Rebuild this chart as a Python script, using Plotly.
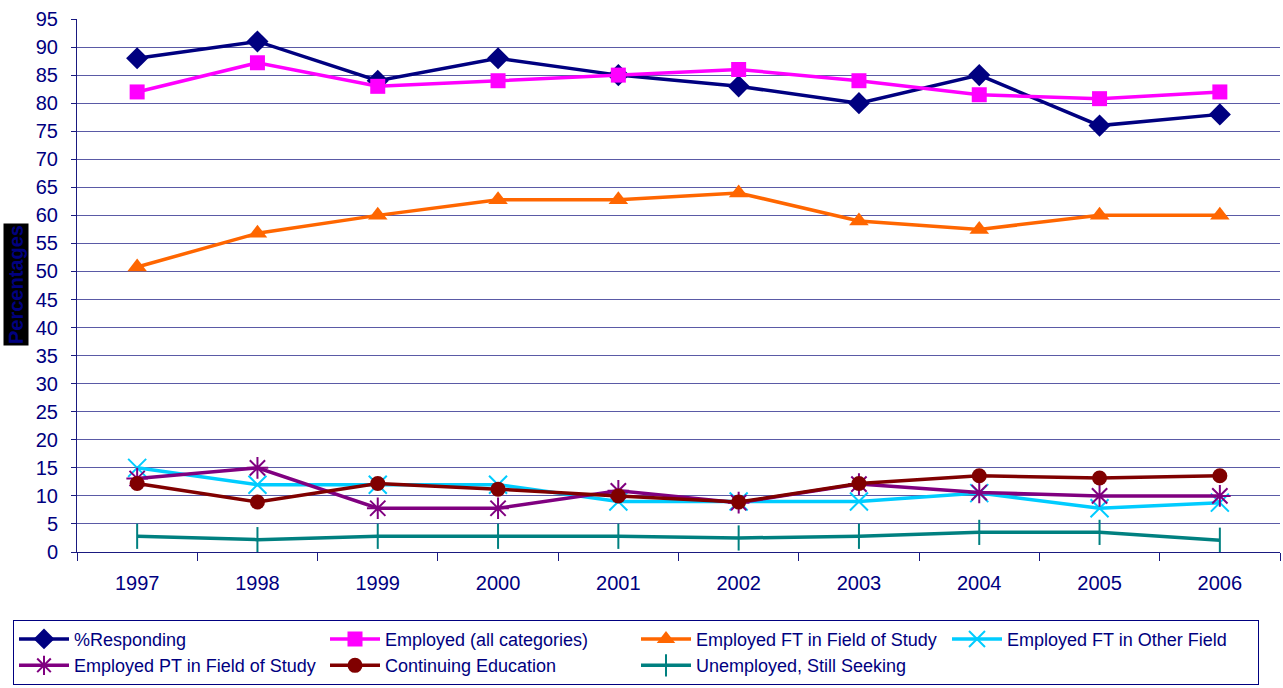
import plotly.graph_objects as go

years = ["1997", "1998", "1999", "2000", "2001", "2002", "2003", "2004", "2005", "2006"]
responding = [88, 91, 84, 88, 85, 83, 80, 85, 76, 78]
employed_all = [82, 87.2, 83, 84, 85, 86, 84, 81.5, 80.8, 82]
ft_field = [50.8, 56.8, 60, 62.8, 62.8, 64, 59, 57.5, 60, 60]
ft_other = [15, 12, 12, 12, 9, 9, 9, 10.5, 7.8, 8.8]
pt_field = [13.1, 15, 7.8, 7.8, 10.9, 8.8, 12.1, 10.6, 10, 10]
cont_edu = [12.2, 8.9, 12.2, 11.2, 10, 8.9, 12.2, 13.6, 13.2, 13.6]
unemployed = [2.8, 2.2, 2.8, 2.8, 2.8, 2.5, 2.8, 3.5, 3.5, 2.1]

series = [
    ("%Responding", responding, "#000080", "diamond", 17, None),
    ("Employed (all categories)", employed_all, "#FF00FF", "square", 15, None),
    ("Employed FT in Field of Study", ft_field, "#FF6600", "triangle-up", 17, None),
    ("Employed FT in Other Field", ft_other, "#00CCFF", "x-thin-open", 18, 2),
    ("Employed PT in Field of Study", pt_field, "#800080", "asterisk-open", 18, 2),
    ("Continuing Education", cont_edu, "#800000", "circle", 15, None),
    ("Unemployed, Still Seeking", unemployed, "#008080", "line-ns-open", 18, 2),
]

fig = go.Figure()
for name, vals, color, sym, size, lw in series:
    marker = dict(symbol=sym, size=size, color=color)
    if lw:
        marker["line"] = dict(width=lw, color=color)
    fig.add_trace(go.Scatter(
        x=years, y=vals, name=name, mode="lines+markers",
        line=dict(color=color, width=3.5), marker=marker,
    ))

fig.update_layout(
    width=1283, height=688,
    margin=dict(l=77, r=3, t=19, b=134),
    paper_bgcolor="white", plot_bgcolor="white",
    font=dict(family="Liberation Sans, Arial", color="#000080", size=18),
    showlegend=True,
    legend=dict(
        orientation="h", xref="paper", yref="paper",
        x=(13 - 77) / 1203, xanchor="left", y=(554 - 622) / 535, yanchor="top",
        bordercolor="#000080", borderwidth=1, bgcolor="white",
        font=dict(size=18, color="#000080"),
        entrywidth=246, entrywidthmode="pixels",
        tracegroupgap=0, itemwidth=50,
    ),
    xaxis=dict(
        type="category", range=[-0.5, 9.5], automargin=False,
        showgrid=False, showline=True, linecolor="#1a1a80", linewidth=1,
        ticks="outside", tickson="boundaries", ticklen=8, tickcolor="#1a1a80",
        tickfont=dict(size=20, color="#000080"), ticklabelstandoff=13,
    ),
    yaxis=dict(
        range=[0, 95], dtick=5, tick0=0, automargin=False,
        showgrid=True, gridcolor="#5a5aa6", gridwidth=1,
        showline=True, linecolor="#1a1a80", linewidth=1,
        zeroline=False,
        ticks="outside", ticklen=5, tickcolor="#1a1a80",
        tickfont=dict(size=20, color="#000080"), ticklabelstandoff=9,
    ),
    annotations=[dict(
        text="<b>Percentages</b>", textangle=-90,
        xref="paper", yref="paper", x=(16 - 77) / 1203, y=(554 - 286) / 535,
        xanchor="center", yanchor="middle", showarrow=False,
        bgcolor="black", font=dict(size=20, color="#000080", weight="bold"),
    )],
)

fig.write_html("out.html", config={"displayModeBar": False},
               post_script="document.body.style.margin='0';")
